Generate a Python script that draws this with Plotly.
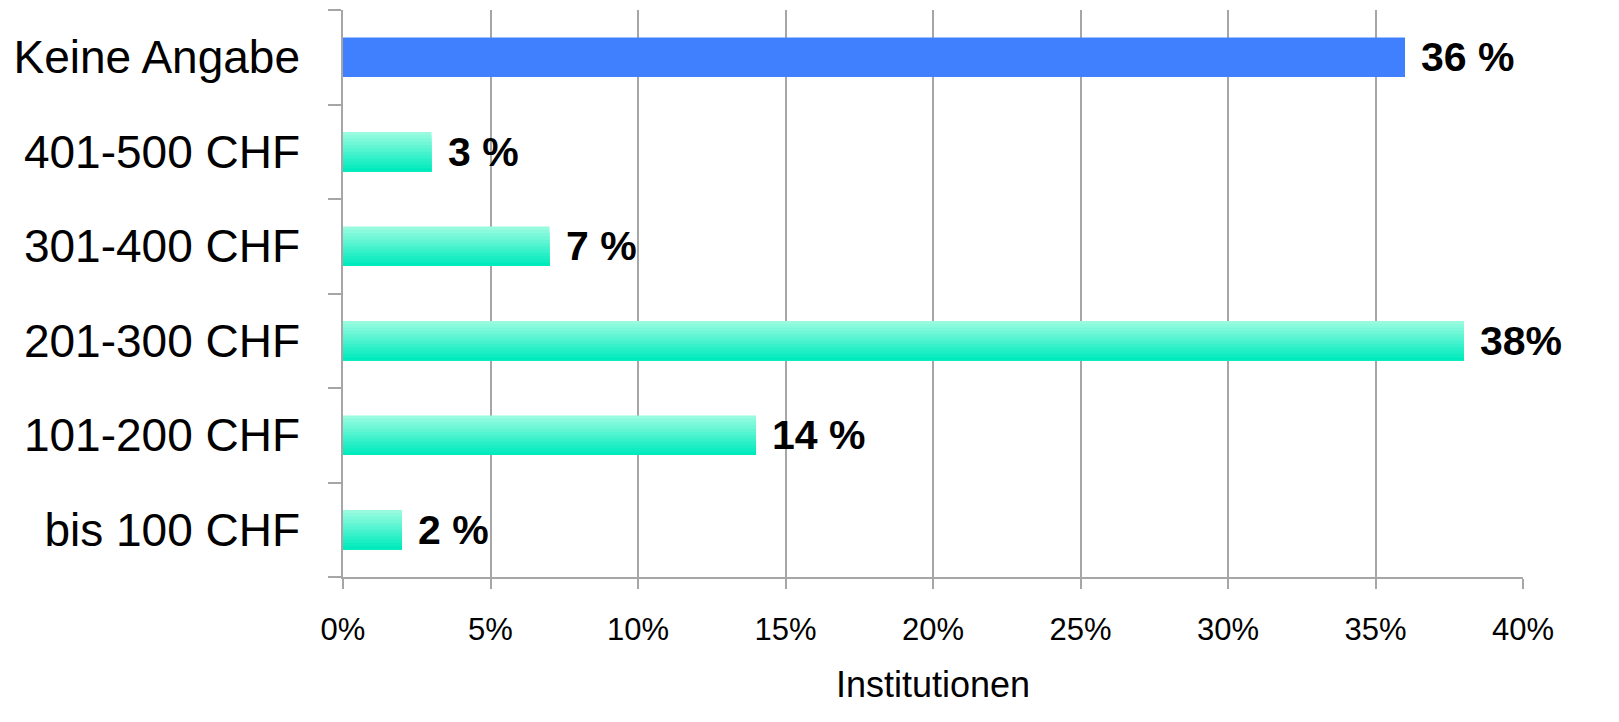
import plotly.graph_objects as go

categories = ["bis 100 CHF", "101-200 CHF", "201-300 CHF", "301-400 CHF", "401-500 CHF", "Keine Angabe"]
values = [0.02, 0.14, 0.38, 0.07, 0.03, 0.36]
labels = ["2 %", "14 %", "38%", "7 %", "3 %", "36 %"]
x_ticks = [0, 0.05, 0.10, 0.15, 0.20, 0.25, 0.30, 0.35, 0.40]

BAR_W = 0.42
STEPS = 12
top_rgb = (152, 251, 224)
bot_rgb = (0, 235, 189)
blue = "#4080ff"

fig = go.Figure()
for i in range(STEPS):
    t = i / (STEPS - 1)
    r = round(top_rgb[0] + (bot_rgb[0] - top_rgb[0]) * t)
    g = round(top_rgb[1] + (bot_rgb[1] - top_rgb[1]) * t)
    b = round(top_rgb[2] + (bot_rgb[2] - top_rgb[2]) * t)
    col = f"rgb({r},{g},{b})"
    w = BAR_W * (1 - i / STEPS)
    colors = [blue if c == "Keine Angabe" else col for c in categories]
    fig.add_trace(go.Bar(
        x=values, y=categories, orientation="h",
        width=w, offset=-BAR_W / 2,
        marker=dict(color=colors, line=dict(width=0)),
        showlegend=False, hoverinfo="skip" if i else "x+y",
    ))

for c, v, lab in zip(categories, values, labels):
    fig.add_annotation(x=v, y=c, text=f"<b>{lab}</b>", showarrow=False,
                       xanchor="left", xshift=14,
                       font=dict(family="Liberation Sans, Arial", size=41, color="#000"))

fig.update_layout(
    barmode="overlay",
    width=1619, height=722,
    margin=dict(l=343, r=96, t=10, b=145),
    paper_bgcolor="white", plot_bgcolor="white",
    font=dict(family="Liberation Sans, Arial", color="#000"),
)
fig.update_xaxes(
    range=[0, 0.4], tickvals=x_ticks, tickformat=".0%",
    showgrid=True, gridcolor="#a6a6a6", gridwidth=1.5,
    showline=True, linecolor="#a6a6a6", linewidth=1.5,
    ticks="outside", ticklen=10, tickcolor="#a6a6a6", tickwidth=1.5,
    tickfont=dict(size=31, color="#000"), zeroline=False,
    ticklabelstandoff=14,
    title=dict(text="Institutionen", font=dict(size=36, color="#000"), standoff=26),
)
fig.update_yaxes(
    categoryorder="array", categoryarray=categories,
    tickson="boundaries", ticks="outside", ticklen=13,
    tickcolor="#a6a6a6", tickwidth=1.5,
    showline=True, linecolor="#a6a6a6", linewidth=1.5,
    showgrid=False, tickfont=dict(size=46, color="#000"),
    ticklabelstandoff=32,
)

fig.write_html("out.html", config={"displayModeBar": False},
               post_script="document.body.style.margin='0';document.body.style.padding='0';document.body.style.overflow='hidden';")
